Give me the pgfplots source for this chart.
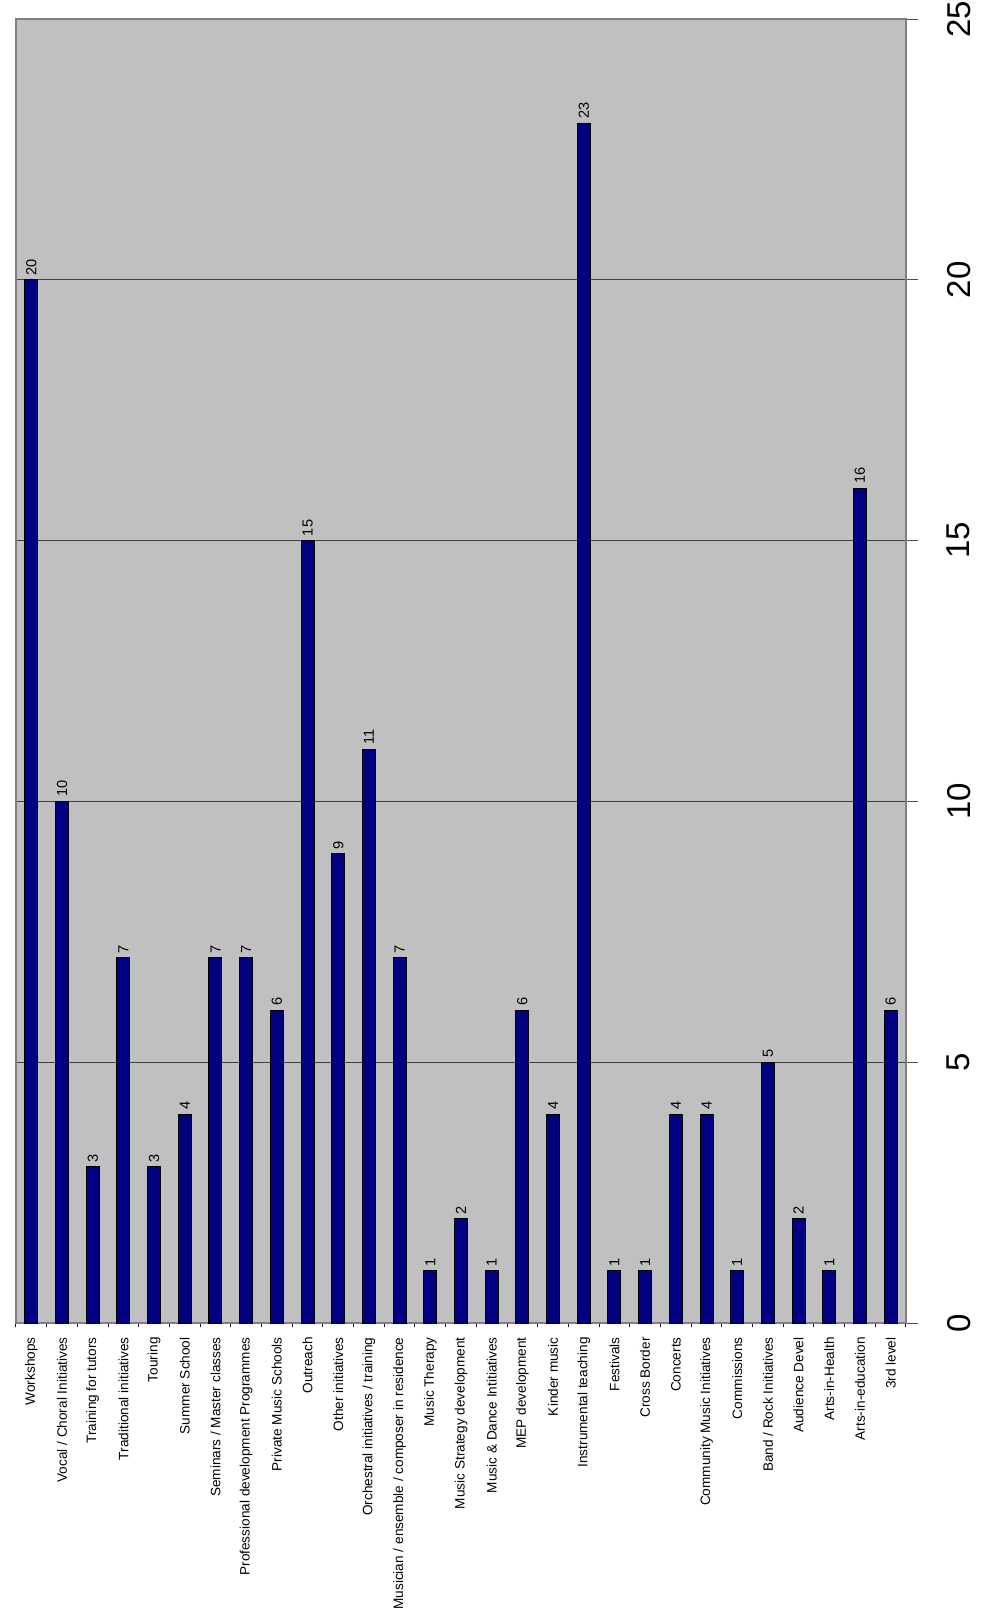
\documentclass[border=0pt]{standalone}
\usepackage{fontspec}
\setmainfont{Liberation Sans}
\usepackage{pgfplots}
\pgfplotsset{compat=1.18}
\definecolor{barblue}{HTML}{000080}
\definecolor{bggray}{HTML}{C0C0C0}
\definecolor{framegray}{HTML}{808080}
\begin{document}
\begin{tikzpicture}
\path[use as bounding box] (-8pt,-148pt) rectangle (492.5pt,661.5pt);
\begin{axis}[
  at={(0,0)}, anchor=south west,
  scale only axis, width=445pt, height=652pt,
  /pgf/number format/assume math mode=true,
  ybar, bar width=6.5pt,
  xmin=-0.5, xmax=28.5, ymin=0, ymax=25,
  axis background/.style={fill=bggray},
  axis line style={framegray, line width=0.6pt},
  xtick={-0.5,0.5,...,28.5},
  x tick label as interval,
  xticklabels={Workshops,Vocal / Choral Initiatives,Training for tutors,Traditional initiatives,Touring,Summer School,Seminars / Master classes,Professional development Programmes,Private Music Schools,Outreach,Other initiatives,Orchestral initiatives / training,Musician / ensemble / composer in residence,Music Therapy,Music Strategy development,Music \& Dance Intitiatives,MEP development,Kinder music,Instrumental teaching,Festivals,Cross Border,Concerts,Community Music Initiatives,Commissions,Band / Rock Initiatives,Audience Devel,Arts-in-Health,Arts-in-education,3rd level},
  xticklabel style={rotate=90, anchor=east, font=\fontsize{6.8}{8}\selectfont, inner sep=1pt},
  xtick pos=left, ytick pos=right,
  tick align=outside,
  major tick length=6pt,
  x tick style={black, line width=0.5pt, dash pattern=on 0pt off 3.8pt on 2.2pt off 1pt},
  ytick={0,5,...,25},
  y tick style={black!70, line width=0.5pt},
  yticklabel pos=right,
  yticklabel style={xshift=11pt, rotate=90, anchor=north, font=\fontsize{16.5}{18}\selectfont},
  ymajorgrids,
  grid style={black!75, line width=0.5pt},
  nodes near coords,
  every node near coord/.append style={rotate=90, anchor=west, font=\fontsize{7.3}{8}\selectfont, inner sep=2pt, black},
]
\addplot[fill=barblue, draw=black, line width=0.5pt] coordinates {
(0,20) (1,10) (2,3) (3,7) (4,3) (5,4) (6,7) (7,7) (8,6) (9,15)
(10,9) (11,11) (12,7) (13,1) (14,2) (15,1) (16,6) (17,4) (18,23) (19,1)
(20,1) (21,4) (22,4) (23,1) (24,5) (25,2) (26,1) (27,16) (28,6)};
\end{axis}
\end{tikzpicture}
\end{document}
